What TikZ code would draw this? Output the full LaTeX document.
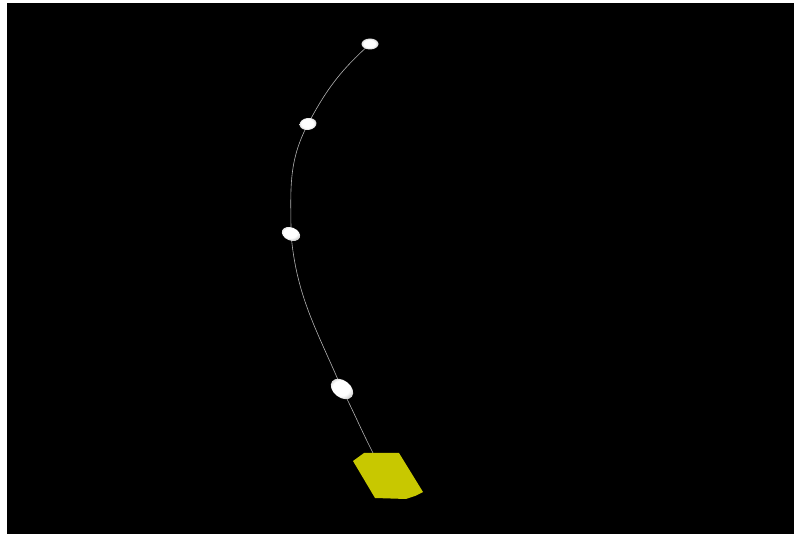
\documentclass[tikz,border=0pt]{standalone}
\usetikzlibrary{shapes.geometric,backgrounds}
\pgfdeclareradialshading{beadshade}{\pgfpoint{-3bp}{3bp}}{color(0bp)=(white); color(17bp)=(white); color(35bp)=(gray!75); color(50bp)=(gray!50)}
\begin{document}
\begin{tikzpicture}[x=1pt,y=1pt,
  bead/.style={ellipse, inner sep=0pt, shading=beadshade},
  wire/.style={draw=gray!60, line width=0.6pt},
  plate/.style={fill={rgb,255:red,200;green,200;blue,0}, draw=none}]
\useasboundingbox (0,0) rectangle (794,534);
\coordinate (tail) at (373,81);
\node[bead, minimum width=17pt, minimum height=11pt] (a) at (370,490) {};
\node[bead, minimum width=17pt, minimum height=12pt, rotate=8] (b) at (308,410) {};
\node[bead, minimum width=19pt, minimum height=13pt, rotate=-22] (c) at (291,300) {};
\node[bead, minimum width=25pt, minimum height=17pt, rotate=-38] (d) at (342,145) {};
\fill[plate] (353,73) -- (364,81) -- (399,81) -- (423,42) -- (415,38) -- (406,35) -- (375,36) -- cycle;
\begin{scope}[on background layer]
\fill[white] (0,0) rectangle (794,534);
\fill[black] (7,0) rectangle (794,531);
\path[wire] (a.center) to[out=222,in=62] (b.center)
  to[out=242,in=90] (c.center)
  to[out=275,in=113] (d.center)
  to[out=-63,in=117] (tail);
\end{scope}
\end{tikzpicture}
\end{document}
